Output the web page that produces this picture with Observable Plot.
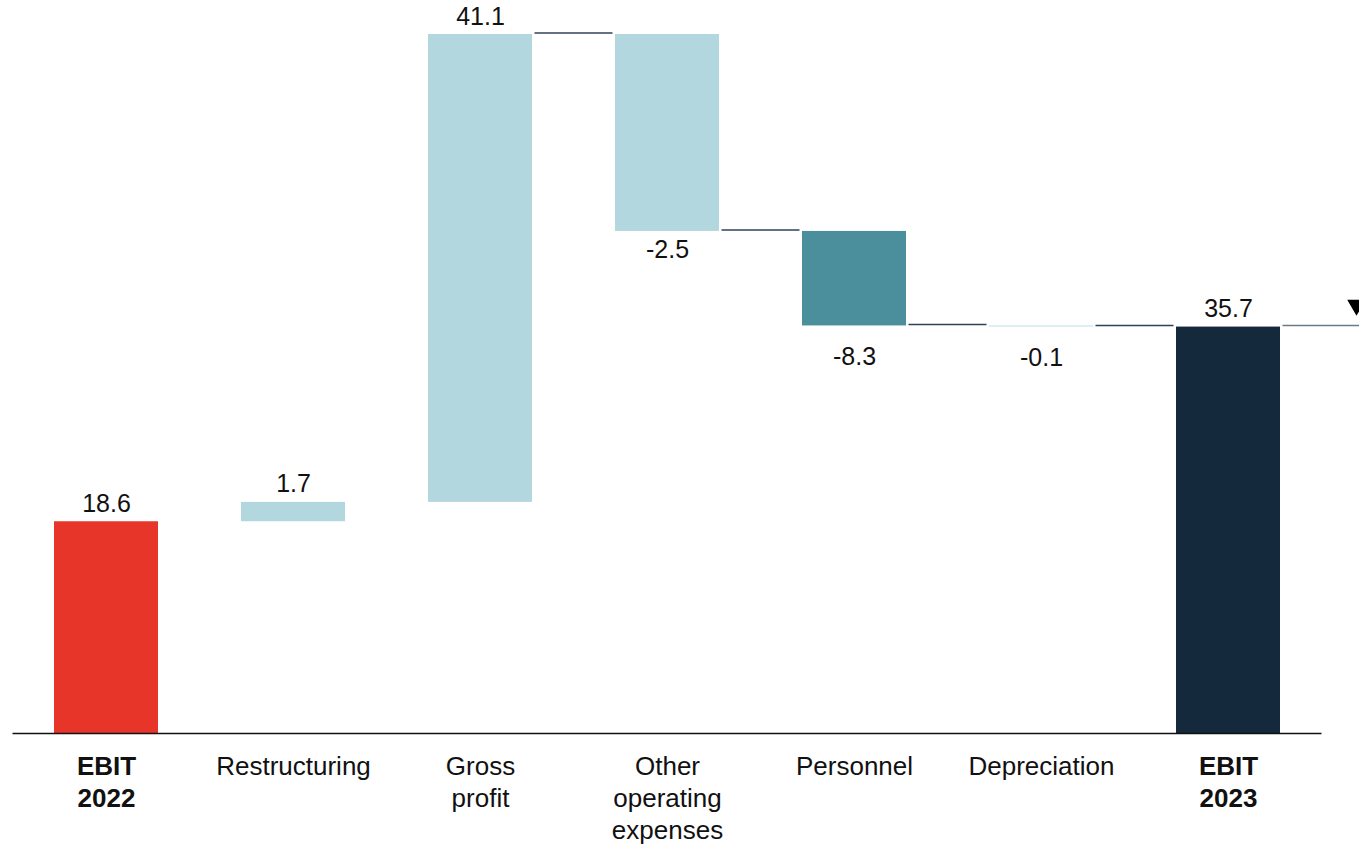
<!DOCTYPE html>
<html>
<head>
<meta charset="utf-8">
<script src="https://cdn.jsdelivr.net/npm/d3@7"></script>
<script src="https://cdn.jsdelivr.net/npm/@observablehq/plot@0.6"></script>
<style>
  html, body { margin: 0; padding: 0; background: #fff; overflow: hidden; }
  #chart svg { display: block; }
</style>
</head>
<body>
<div id="chart"></div>
<script>
// ---- data ----
const categories = ["EBIT 2022", "Restructuring", "Gross profit", "Other operating expenses", "Personnel", "Depreciation", "EBIT 2023"];
const tickLabels = ["EBIT\n2022", "Restructuring", "Gross\nprofit", "Other\noperating\nexpenses", "Personnel", "Depreciation", "EBIT\n2023"];
const barKinds = ["total", "delta", "delta", "delta", "delta", "delta", "total"];
const barValues = [18.6, 1.7, 41.1, -17.3, -8.3, -0.1, 35.7];
const valueLabels = ["18.6", "1.7", "41.1", "-2.5", "-8.3", "-0.1", "35.7"];
const connectorAfter = ["Gross profit", "Other operating expenses", "Personnel", "Depreciation", "EBIT 2023"];
const boldCategories = ["EBIT 2022", "EBIT 2023"];

// ---- styles ----
const barColor = {
  "EBIT 2022": "#e8352a",
  "Restructuring": "#b3d7de",
  "Gross profit": "#b3d7de",
  "Other operating expenses": "#b3d7de",
  "Personnel": "#4b8f9d",
  "Depreciation": "#c6e2e7",
  "EBIT 2023": "#15293d"
};
const labelDy = {"Other operating expenses": 19};

// ---- build waterfall rows ----
let running = 0;
const rows = categories.map((c, i) => {
  let y1, y2;
  if (barKinds[i] === "total") { y1 = 0; y2 = barValues[i]; running = barValues[i]; }
  else { y1 = running; y2 = running + barValues[i]; running = y2; }
  return {category: c, tick: tickLabels[i], y1, y2, end: y2, value: barValues[i], label: valueLabels[i],
          top: Math.max(y1, y2), bottom: Math.min(y1, y2)};
});
const connRows = rows.filter(d => connectorAfter.includes(d.category));
const lastRow = rows[rows.length - 1];

const W = 1359, H = 847, ml = 12.5, mr = 37.5;
const step = (W - ml - mr) / categories.length;
const font = "Liberation Sans, Arial, Helvetica, sans-serif";

const chart = Plot.plot({
  width: W,
  height: H,
  marginLeft: ml,
  marginRight: mr,
  marginTop: 34,
  marginBottom: 114,
  style: {fontFamily: font, background: "#fff"},
  x: {domain: categories, paddingInner: 0.444, paddingOuter: 0.222, axis: null},
  y: {domain: [0, 61.4], axis: null},
  marks: [
    Plot.barY(rows, {x: "category", y1: "y1", y2: "y2", fill: d => barColor[d.category]}),
    Plot.tickY(connRows, {
      x: "category", y: "end", dx: step / 2, dy: -1.5,
      insetLeft: 13, insetRight: 13,
      stroke: d => d.category === "EBIT 2023" ? "#6b7b89" : "#2f4256",
      strokeWidth: 1.5
    }),
    Plot.ruleY([0], {stroke: "#111", strokeWidth: 1.5}),
    // value labels, positive above
    Plot.text(rows.filter(d => d.value >= 0), {
      x: "category", y: "top", text: "label", dy: -18,
      fontSize: 25, fill: "#111", fontFamily: font
    }),
    // value labels, negative below
    Plot.text(rows.filter(d => d.value < 0 && !(d.category in labelDy)), {
      x: "category", y: "bottom", text: "label", dy: 31,
      fontSize: 25, fill: "#111", fontFamily: font
    }),
    Plot.text(rows.filter(d => d.value < 0 && (d.category in labelDy)), {
      x: "category", y: "bottom", text: "label", dy: 19,
      fontSize: 25, fill: "#111", fontFamily: font
    }),
    // category labels
    Plot.text(rows.filter(d => !boldCategories.includes(d.category)), {
      x: "category", text: "tick", frameAnchor: "bottom", lineAnchor: "top", dy: 19,
      lineHeight: 1.23, fontSize: 26, fill: "#111", fontFamily: font
    }),
    Plot.text(rows.filter(d => boldCategories.includes(d.category)), {
      x: "category", text: "tick", frameAnchor: "bottom", lineAnchor: "top", dy: 19,
      lineHeight: 1.23, fontSize: 26, fontWeight: "bold", fill: "#111", fontFamily: font
    }),
    // end marker (clipped at the right edge, as in the original)
    Plot.dot([lastRow], {
      x: "category", y: "end", symbol: "triangle", r: 6.9, rotate: 180,
      fill: "#000", stroke: "none", dx: 128, dy: -22
    })
  ]
});
document.getElementById("chart").appendChild(chart);
</script>
</body>
</html>
